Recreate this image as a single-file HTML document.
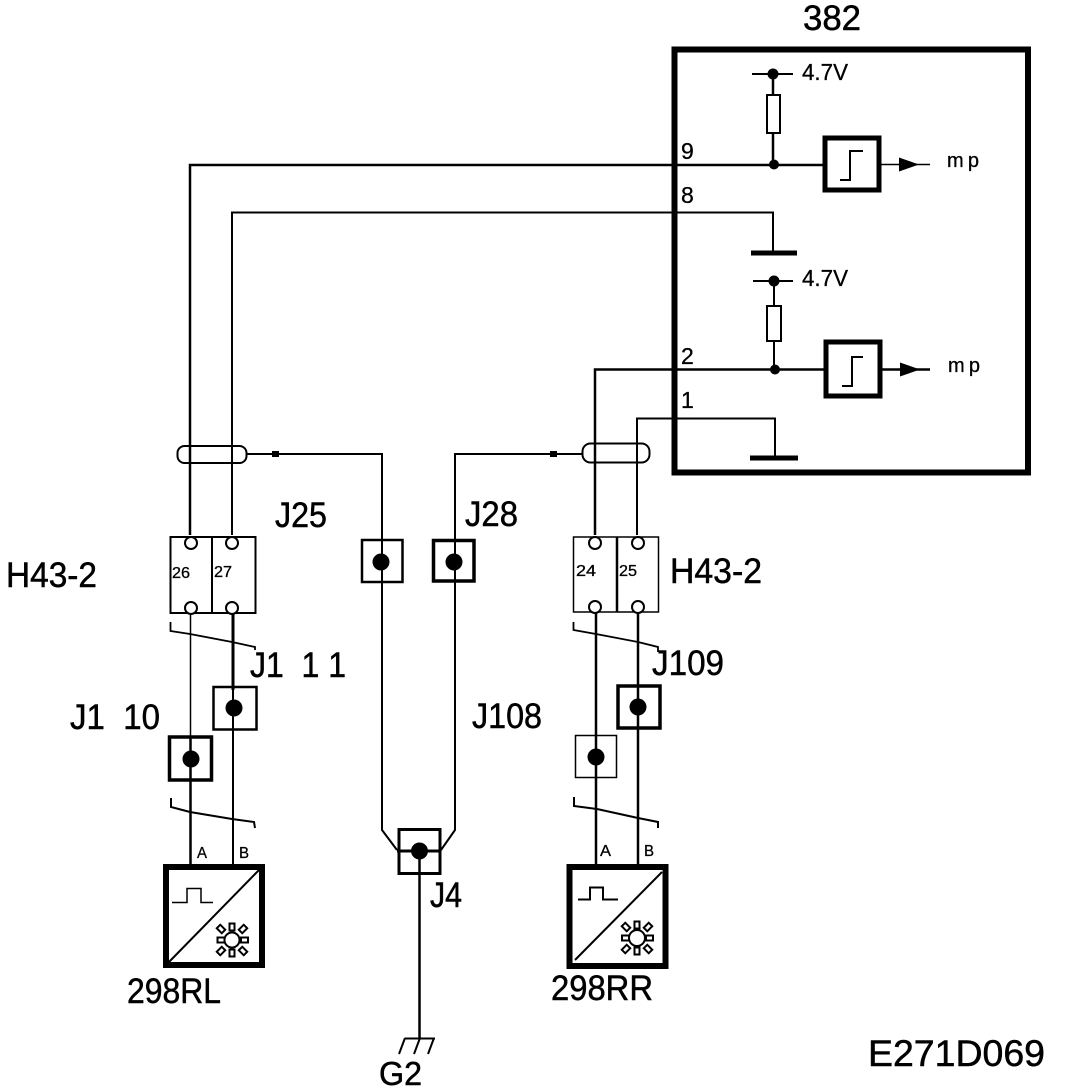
<!DOCTYPE html>
<html>
<head>
<meta charset="utf-8">
<style>
html,body{margin:0;padding:0;background:#fff;}
svg{display:block;}
text{font-family:"Liberation Sans",sans-serif;fill:#000;stroke:#000;stroke-width:.3px;white-space:pre;}
.l{font-size:35px;stroke-width:.5px;}
.m{font-size:23px;}
.s{font-size:16px;}
</style>
</head>
<body>
<svg width="1072" height="1090" viewBox="0 0 1072 1090" xmlns="http://www.w3.org/2000/svg">
<g fill="none" stroke="#000" stroke-linecap="butt">
  <!-- ECU box -->
  <rect x="674.5" y="49.5" width="353.5" height="423" stroke-width="6"/>
  <!-- top circuit -->
  <path d="M752 74H793" stroke-width="2"/>
  <path d="M773 74V95M773 133V164" stroke-width="2.5"/>
  <rect x="767" y="95" width="13" height="38" stroke-width="2"/>
  <path d="M190 535V165H823" stroke-width="2.5"/>
  <rect x="825" y="138" width="54" height="52" stroke-width="5"/>
  <path d="M840 180H850V151H863" stroke-width="2"/>
  <path d="M881 164.5H930" stroke-width="1.5"/>
  <!-- wire 8 -->
  <path d="M232 535V212.5H773V252" stroke-width="2"/>
  <path d="M751 253H797" stroke-width="5"/>
  <!-- lower circuit -->
  <path d="M753 281H793" stroke-width="2"/>
  <path d="M774 281V306M774 341V369" stroke-width="2"/>
  <rect x="767" y="306" width="14" height="35" stroke-width="2"/>
  <path d="M595 535V369.5H824" stroke-width="2.5"/>
  <rect x="826" y="342" width="54" height="54" stroke-width="5"/>
  <path d="M842 386H852V357H863" stroke-width="2"/>
  <path d="M881 369.5H930" stroke-width="2.5"/>
  <!-- wire 1 -->
  <path d="M637 535V418.5H775V458" stroke-width="2"/>
  <path d="M750 458H798" stroke-width="5"/>
  <!-- shields -->
  <rect x="177.500" y="446" width="69" height="17" rx="7" stroke-width="2"/>
  <rect x="582.500" y="443.500" width="67" height="19" rx="8" stroke-width="2"/>
  <path d="M247 454H382V830L397 850" stroke-width="2"/>
  <path d="M582 454H455V830L441 850" stroke-width="2"/>
  <!-- connectors -->
  <rect x="170.500" y="537" width="85" height="76" stroke-width="2"/>
  <path d="M212 537V613" stroke-width="2"/>
  <rect x="573.500" y="537" width="85" height="75" stroke-width="1.500"/>
  <path d="M617 537V612" stroke-width="2.500"/>
  <!-- lower wires -->
  <path d="M190.500 614V737" stroke-width="1.500"/>
  <path d="M190.500 737V865" stroke-width="2.500"/>
  <path d="M233 613V690" stroke-width="3"/>
  <path d="M233 690V865" stroke-width="2"/>
  <path d="M596 612V865" stroke-width="2.500"/>
  <path d="M638 612V865" stroke-width="2.500"/>
  <path d="M419.500 851V1038" stroke-width="2.500"/>
  <!-- brackets -->
  <path d="M170.500 622V631L190 634L232 642L255 647V650" stroke-width="1.800"/>
  <path d="M171 798V807L190 812L232 819L254 822L255 828" stroke-width="2"/>
  <path d="M573.500 622V630L596 634L638 642L658 647V652" stroke-width="1.800"/>
  <path d="M574 797V806L597 809L638 818L658 822V828" stroke-width="2"/>
  <!-- splice boxes -->
  <rect x="362" y="540" width="40.500" height="42" stroke-width="2.500"/>
  <rect x="433.500" y="540.500" width="40.500" height="40.500" stroke-width="3.500"/>
  <rect x="213.500" y="687" width="43" height="42.500" stroke-width="2.500"/>
  <rect x="169.500" y="737" width="42" height="43" stroke-width="3.500"/>
  <rect x="618" y="686" width="42" height="42" stroke-width="3.500"/>
  <rect x="575.500" y="735.500" width="41" height="42" stroke-width="1.500"/>
  <rect x="399" y="829.500" width="41" height="44" stroke-width="3"/>
  <path d="M397 851H441" stroke-width="3"/>
  <!-- sensors -->
  <rect x="166" y="867" width="96" height="98" stroke-width="6"/>
  <path d="M168 963L259 870" stroke-width="2"/>
  <path d="M172 902.500H187V888.500H201V902.500H213" stroke-width="1.500"/>
  <rect x="569.500" y="867" width="96" height="99" stroke-width="6"/>
  <path d="M575 960L662 872" stroke-width="2"/>
  <path d="M578 899.500H590V887.500H603V899.500H618" stroke-width="2"/>
  <!-- gears -->
  <g stroke-width="2">
    <circle cx="232" cy="940" r="7.500" stroke-width="2"/>
    <rect x="229.500" y="923.500" width="5" height="7"/>
    <rect x="229.500" y="949.500" width="5" height="7"/>
    <rect x="217.500" y="937.500" width="7" height="5"/>
    <rect x="241" y="937.500" width="7" height="5"/>
    <rect x="-2.500" y="-3.500" width="5" height="7" transform="translate(221 929) rotate(-45)"/>
    <rect x="-2.500" y="-3.500" width="5" height="7" transform="translate(243 929) rotate(45)"/>
    <rect x="-2.500" y="-3.500" width="5" height="7" transform="translate(221 951) rotate(45)"/>
    <rect x="-2.500" y="-3.500" width="5" height="7" transform="translate(243 951) rotate(-45)"/>
  </g>
  <g stroke-width="2">
    <circle cx="637" cy="938" r="8" stroke-width="2"/>
    <rect x="634.500" y="921.500" width="5" height="7"/>
    <rect x="634.500" y="947.500" width="5" height="7"/>
    <rect x="622" y="935.500" width="7" height="5"/>
    <rect x="646" y="935.500" width="7" height="5"/>
    <rect x="-2.500" y="-3.500" width="5" height="7" transform="translate(626 927) rotate(-45)"/>
    <rect x="-2.500" y="-3.500" width="5" height="7" transform="translate(648 927) rotate(45)"/>
    <rect x="-2.500" y="-3.500" width="5" height="7" transform="translate(626 949) rotate(45)"/>
    <rect x="-2.500" y="-3.500" width="5" height="7" transform="translate(648 949) rotate(-45)"/>
  </g>
  <!-- ground G2 -->
  <path d="M405 1038.500H435" stroke-width="2"/>
  <path d="M405 1038L399 1054M420 1038L414 1054M434 1038L428 1054" stroke-width="2"/>
  <!-- connector pin circles -->
  <g fill="#fff" stroke-width="2">
    <circle cx="191" cy="543" r="6"/>
    <circle cx="232" cy="543" r="6"/>
    <circle cx="191" cy="608" r="6"/>
    <circle cx="232" cy="608" r="6"/>
    <circle cx="595" cy="543" r="6"/>
    <circle cx="638" cy="543" r="6"/>
    <circle cx="595" cy="607" r="6"/>
    <circle cx="638" cy="607" r="6"/>
  </g>
</g>
<!-- filled dots -->
<g fill="#000">
  <circle cx="773" cy="74" r="5.500"/>
  <circle cx="774" cy="164.500" r="5"/>
  <circle cx="774" cy="281" r="5.500"/>
  <circle cx="775" cy="369.500" r="5"/>
  <circle cx="381" cy="562" r="8.500"/>
  <circle cx="454" cy="562" r="8.500"/>
  <circle cx="234" cy="708" r="8.500"/>
  <circle cx="191" cy="759" r="8.500"/>
  <circle cx="638" cy="707" r="8.500"/>
  <circle cx="596" cy="757" r="8.500"/>
  <circle cx="419.500" cy="851" r="8.500"/>
  <rect x="272" y="451" width="7" height="6"/>
  <rect x="550" y="451" width="7" height="6"/>
  <path d="M899 157.500L919 164.500L899 171.500Z"/>
  <path d="M900 362.500L920 369.500L900 376.500Z"/>
</g>
<!-- labels -->
<text class="l" x="803" y="30" textLength="58" lengthAdjust="spacingAndGlyphs">382</text>
<text class="m" x="802" y="80" textLength="46" lengthAdjust="spacingAndGlyphs">4.7V</text>
<text class="m" x="802" y="286" textLength="46" lengthAdjust="spacingAndGlyphs">4.7V</text>
<text class="m" x="681" y="159">9</text>
<text class="m" x="681" y="203">8</text>
<text class="m" x="681" y="364">2</text>
<text class="m" x="681" y="408">1</text>
<text class="m" x="947" y="167" style="font-size:20px" textLength="32">mp</text>
<text class="m" x="948" y="372" style="font-size:20px" textLength="32">mp</text>
<text class="l" x="275" y="527" textLength="52" lengthAdjust="spacingAndGlyphs">J25</text>
<text class="l" x="465" y="526" textLength="53" lengthAdjust="spacingAndGlyphs">J28</text>
<text class="l" x="6" y="587" textLength="91" lengthAdjust="spacingAndGlyphs">H43-2</text>
<text class="l" x="670" y="583" textLength="92" lengthAdjust="spacingAndGlyphs">H43-2</text>
<text class="l" x="250" y="677" textLength="96" lengthAdjust="spacingAndGlyphs">J1  1 1</text>
<text class="l" x="70" y="729" textLength="90" lengthAdjust="spacingAndGlyphs">J1  10</text>
<text class="l" x="652" y="675" textLength="72" lengthAdjust="spacingAndGlyphs">J109</text>
<text class="l" x="472" y="728" textLength="70" lengthAdjust="spacingAndGlyphs">J108</text>
<text class="l" x="430" y="907" textLength="32" lengthAdjust="spacingAndGlyphs">J4</text>
<text class="l" x="127" y="1003" textLength="94" lengthAdjust="spacingAndGlyphs">298RL</text>
<text class="l" x="551" y="1000" textLength="102" lengthAdjust="spacingAndGlyphs">298RR</text>
<text class="l" x="379" y="1085" style="font-size:33px" textLength="43" lengthAdjust="spacingAndGlyphs">G2</text>
<text class="l" x="868" y="1066" style="font-size:37px" textLength="177" lengthAdjust="spacingAndGlyphs">E271D069</text>
<text class="s" x="172" y="578" textLength="18" lengthAdjust="spacingAndGlyphs">26</text>
<text class="s" x="214" y="577" textLength="18" lengthAdjust="spacingAndGlyphs">27</text>
<text class="s" x="576" y="576" textLength="20" lengthAdjust="spacingAndGlyphs">24</text>
<text class="s" x="619" y="576" textLength="18" lengthAdjust="spacingAndGlyphs">25</text>
<text class="s" x="197" y="858" textLength="10" lengthAdjust="spacingAndGlyphs">A</text>
<text class="s" x="239" y="858" textLength="10" lengthAdjust="spacingAndGlyphs">B</text>
<text class="s" x="600" y="856" textLength="11" lengthAdjust="spacingAndGlyphs">A</text>
<text class="s" x="644" y="856" textLength="10" lengthAdjust="spacingAndGlyphs">B</text>
</svg>
</body>
</html>
